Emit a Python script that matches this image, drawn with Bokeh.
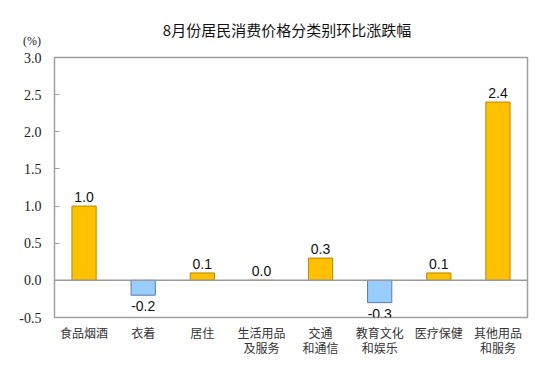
from bokeh.plotting import figure
from bokeh.layouts import column
from bokeh.models import ColumnDataSource, FixedTicker, NumeralTickFormatter, Span, LabelSet, Div
from bokeh.core.properties import value
from bokeh.embed import file_html
from bokeh.resources import INLINE

categories = ["食品烟酒", "衣着", "居住", "生活用品\n及服务", "交通\n和通信", "教育文化\n和娱乐", "医疗保健", "其他用品\n和服务"]
values = [1.0, -0.2, 0.1, 0.0, 0.3, -0.3, 0.1, 2.4]
y_ticks = [-0.5, 0.0, 0.5, 1.0, 1.5, 2.0, 2.5, 3.0]
title_text = "8月份居民消费价格分类别环比涨跌幅"
unit_text = "(%)"

fills = ["#FFC000" if v >= 0 else "#99CCFF" for v in values]
lines = ["#B8860B" if v >= 0 else "#5B7BA8" for v in values]

src = ColumnDataSource(dict(x=categories, top=values, fill=fills, line=lines))
pos = ColumnDataSource(dict(x=[c for c, v in zip(categories, values) if v >= 0],
                            y=[v for v in values if v >= 0],
                            label=["%.1f" % v for v in values if v >= 0]))
neg = ColumnDataSource(dict(x=[c for c, v in zip(categories, values) if v < 0],
                            y=[v for v in values if v < 0],
                            label=["%.1f" % v for v in values if v < 0]))

header = Div(text=(
    '<div style="position:relative;width:541px;height:48px;">'
    '<span style="position:absolute;left:287px;top:30px;transform:translate(-50%,-50%);'
    'white-space:nowrap;font-family:\'Noto Sans CJK SC\';font-size:15px;color:#111111;">'
    + title_text + '</span>'
    '<span style="position:absolute;left:32px;top:42px;transform:translate(-50%,-50%);'
    'white-space:nowrap;font-family:\'Liberation Serif\';font-size:12px;color:#222222;">'
    + unit_text + '</span></div>'), width=541, height=48, margin=0)

p = figure(x_range=categories, y_range=(-0.5, 3.0), width=541, height=322,
           output_backend="svg", toolbar_location=None, margin=0,
           min_border_left=54, min_border_right=14, min_border_top=9, min_border_bottom=53)

p.vbar(x="x", top="top", bottom=0, width=0.41, fill_color="fill", line_color="line",
       line_width=1, source=src)

p.add_layout(Span(location=0, dimension="width", line_color="#9A9A9A", line_width=1.5))

p.add_layout(LabelSet(x="x", y="y", text="label", source=pos, text_align="center",
                      text_baseline="bottom", y_offset=4, text_font_size=value("14px"),
                      text_font=value("Liberation Sans"), text_color="#111111"))
p.add_layout(LabelSet(x="x", y="y", text="label", source=neg, text_align="center",
                      text_baseline="top", y_offset=-6, text_font_size=value("14px"),
                      text_font=value("Liberation Sans"), text_color="#111111"))

p.grid.visible = False
p.outline_line_color = "#A0A0A0"
p.outline_line_width = 1.5

p.yaxis.ticker = FixedTicker(ticks=y_ticks)
p.yaxis.formatter = NumeralTickFormatter(format="0.0")
p.yaxis.major_tick_in = 5
p.yaxis.major_tick_out = 0
p.yaxis.minor_tick_line_color = None
p.yaxis.axis_line_color = "#A0A0A0"
p.yaxis.major_tick_line_color = "#A0A0A0"
p.yaxis.major_label_text_font = "Liberation Serif"
p.yaxis.major_label_text_font_size = "14px"
p.yaxis.major_label_text_color = "#222222"
p.yaxis.major_label_standoff = 13

p.xaxis.major_tick_line_color = None
p.xaxis.minor_tick_line_color = None
p.xaxis.axis_line_color = "#A0A0A0"
p.xaxis.major_label_text_font = "Noto Sans CJK SC"
p.xaxis.major_label_text_font_size = "12px"
p.xaxis.major_label_text_color = "#333333"
p.xaxis.major_label_text_line_height = 0.9
p.xaxis.major_label_standoff = 0

layout = column(header, p, spacing=0)

open("out.html", "w").write(file_html(layout, INLINE))
